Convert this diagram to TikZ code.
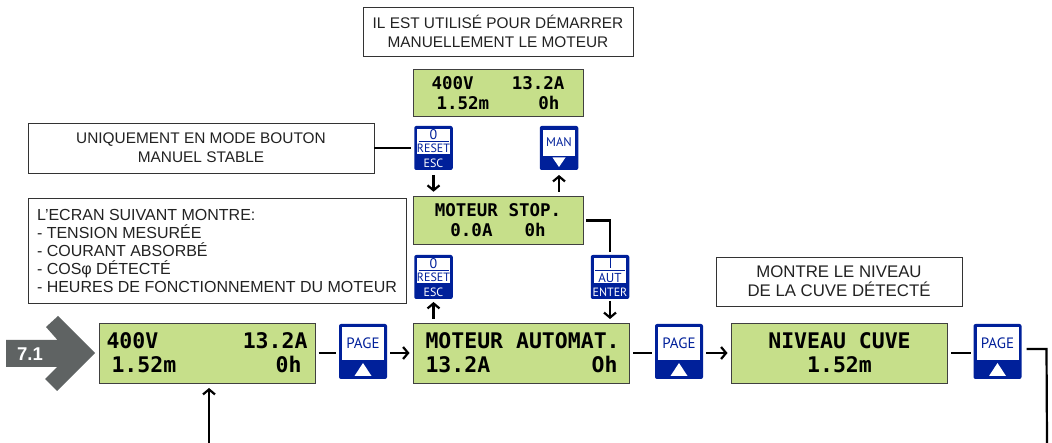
\documentclass[tikz,border=0pt]{standalone}
\usepackage{fontspec}
\setmainfont{Liberation Sans}
\newfontfamily\lcdfont{DejaVu Sans Mono}[BoldFont={DejaVu Sans Mono Bold}]
\newfontfamily\keyfont{PT Sans}
\usetikzlibrary{arrows.meta}
\definecolor{lcdgreen}{HTML}{C6DF8A}
\definecolor{keyblue}{HTML}{00209A}
\definecolor{tagrey}{HTML}{5F6363}
\definecolor{inkgrey}{HTML}{222222}
\tikzstyle{arrow} = [line width=2.2pt,->,>={Straight Barb[length=5pt,width=12pt]}]
\tikzstyle{wire} = [line width=2.2pt]

\begin{document}
\begin{tikzpicture}[x=1pt,y=-1pt]
    \tikzstyle{every node}=[inner sep=0pt, outer sep=0pt]
    \tikzstyle{lcd} = [draw=black!75, line width=0.9pt, fill=lcdgreen, align=center]
    \tikzstyle{biglcd} = [lcd, minimum width=216pt, minimum height=60pt, font=\lcdfont\bfseries\fontsize{21.5}{24}\selectfont]
    \tikzstyle{smalllcd} = [lcd, minimum width=170pt, minimum height=47.5pt, font=\lcdfont\bfseries\fontsize{17.5}{20}\selectfont]
    \tikzstyle{note} = [draw=black!80, line width=0.9pt, fill=white, text=inkgrey, align=center]
    \tikzstyle{pagekey} = [fill=keyblue, rounded corners=2pt, minimum width=48pt, minimum height=55pt]
    \tikzstyle{smallkey} = [fill=keyblue, rounded corners=2pt, minimum width=38.5pt, minimum height=44pt]
    \tikzstyle{keyface} = [fill=white]
    \tikzstyle{keytext} = [font=\keyfont\fontsize{12}{12}\selectfont, text=keyblue]
    \tikzstyle{keyfoot} = [font=\keyfont\fontsize{12}{12}\selectfont, text=white]

    \useasboundingbox (0,0) rectangle (1052,443);

    % displays
    \node[biglcd](lcdmesure) at (207,353) {
        \makebox[201pt][l]{400V\hfill 13.2A}\\
        \makebox[201pt][l]{\hspace*{5pt}1.52m\hfill 0h\hspace*{6pt}}};
    \node[biglcd](lcdauto) at (521.5,353) {
        \makebox[192pt][l]{MOTEUR AUTOMAT.}\\
        \makebox[192pt][l]{13.2A\hfill Oh}};
    \node[biglcd](lcdcuve) at (839.5,353) {NIVEAU CUVE\\1.52m};
    \node[smalllcd](lcdman) at (498,93) {
        \makebox[133pt][l]{400V\hfill 13.2A}\\
        \makebox[133pt][l]{\hspace*{5pt}1.52m\hfill 0h\hspace*{5pt}}};
    \node[smalllcd](lcdstop) at (498,220.5) {MOTEUR STOP.\\0.0A\hspace{32pt}0h};

    % notes
    \node[note, minimum width=270pt, minimum height=49pt, font=\fontsize{15.4}{19}\selectfont](notetop) at (498,31.5)
        {IL EST UTILISÉ POUR DÉMARRER\\MANUELLEMENT LE MOTEUR};
    \node[note, minimum width=346pt, minimum height=50pt, font=\fontsize{15.4}{19}\selectfont](notemode) at (201,148)
        {UNIQUEMENT EN MODE BOUTON\\MANUEL STABLE};
    \node[note, minimum width=378pt, minimum height=105pt, font=\fontsize{16}{18}\selectfont](noteecran) at (217,250.5)
        {\makebox[360pt][l]{L'ECRAN SUIVANT MONTRE:}\\
         \makebox[360pt][l]{- TENSION MESURÉE}\\
         \makebox[360pt][l]{- COURANT ABSORBÉ}\\
         \makebox[360pt][l]{- COSφ DÉTECTÉ}\\
         \makebox[360pt][l]{- HEURES DE FONCTIONNEMENT DU MOTEUR}};
    \node[note, minimum width=246pt, minimum height=49pt, font=\fontsize{16.8}{19}\selectfont](notecuve) at (839,281.5)
        {MONTRE LE NIVEAU\\DE LA CUVE DÉTECTÉ};

    % entry tag
    \fill[tagrey] (6,340) -- (57.5,340) -- (46,327) -- (58,316) -- (95,353) -- (57,391) -- (45,379) -- (57,367) -- (6,367) -- cycle;
    \node[text=white, font=\bfseries\fontsize{18.5}{18.5}\selectfont](tagmenu) at (30,354) {7.1};

    % keys
    \foreach \name/\x in {pagea/363, pageb/679, pagec/997.5} {
        \node[pagekey](\name) at (\x,351.5) {};
        \node[keyface, minimum width=42pt, minimum height=33pt](\name face) at (\x,343.5) {};
        \node[keytext, font=\keyfont\fontsize{15}{15}\selectfont](\name text) at (\x,343.5) {PAGE};
        \fill[white] (\x-8.5,376) -- (\x+8.5,376) -- (\x,363) -- cycle;
    }
    \foreach \name/\y in {escman/148, escauto/277} {
        \node[smallkey](\name) at (433.5,\y) {};
        \node[keyface, minimum width=32.5pt, minimum height=25pt](\name face) at (433.5,\y-6) {};
        \node[keytext, font=\keyfont\fontsize{14}{14}\selectfont](\name zero) at (433.5,\y-13.5) {0};
        \draw[keyblue, line width=0.7pt] (433.5-15,\y-7) -- (433.5+15,\y-7);
        \node[keytext](\name reset) at (433.5,\y+0.5) {RESET};
        \node[keyfoot](\name foot) at (433.5,\y+15) {ESC};
    }
    \node[smallkey](keyman) at (559,148) {};
    \node[keyface, minimum width=32.5pt, minimum height=26pt](keymanface) at (559,143) {};
    \node[keytext, font=\keyfont\fontsize{12.5}{12.5}\selectfont](keymantext) at (559,142) {MAN};
    \fill[white] (552.5,157.5) -- (565.5,157.5) -- (559,167) -- cycle;
    \node[smallkey](keyaut) at (610,277) {};
    \node[keyface, minimum width=32.5pt, minimum height=25pt](keyautface) at (610,271) {};
    \draw[keyblue, line width=1pt] (610,258.5) -- (610,268);
    \draw[keyblue, line width=0.7pt] (595,270) -- (625,270);
    \node[keytext, font=\keyfont\fontsize{13}{13}\selectfont](keyauttext) at (610,277.5) {AUT};
    \node[keyfoot](keyautfoot) at (610,292) {ENTER};

    % connectors
    \coordinate (entry) at (209,443);
    \coordinate (exit) at (1047,443);
    \draw[arrow, shorten >=5pt] (entry) -- (entry |- lcdmesure.south);
    \draw[wire, shorten <=3.5pt, shorten >=3pt] (lcdmesure.east) -- (lcdmesure.east -| pagea.west);
    \draw[arrow, shorten <=3pt, shorten >=4pt] (lcdmesure.east -| pagea.east) -- (lcdauto.west);
    \draw[wire, shorten <=3.5pt, shorten >=3pt] (lcdauto.east) -- (lcdauto.east -| pageb.west);
    \draw[arrow, shorten <=3pt, shorten >=4pt] (lcdauto.east -| pageb.east) -- (lcdcuve.west);
    \draw[wire, shorten <=3.5pt, shorten >=3pt] (lcdcuve.east) -- (lcdcuve.east -| pagec.west);
    \draw[wire, shorten <=5pt] (pagec.east) ++(0,-2.5) -- ++(25,0) -- (exit);
    \draw[wire, shorten >=3.5pt] (notemode.east) -- (notemode.east -| escman.west);
    \draw[arrow, shorten <=5pt, shorten >=5pt] (escman.south) -- (escman.south |- lcdstop.north);
    \draw[arrow, shorten <=5pt, shorten >=5pt] (keyman.south |- lcdstop.north) -- (keyman.south);
    \draw[arrow, shorten <=4pt, shorten >=3pt] (escauto.south |- lcdauto.north) -- (escauto.south);
    \draw[arrow, shorten <=2pt, shorten >=4pt] (keyaut.south) -- (keyaut.south |- lcdauto.north);
    \draw[wire, shorten <=3pt, shorten >=3pt] (lcdstop.east) -- (lcdstop.east -| keyaut.north) -- (keyaut.north);
\end{tikzpicture}
\end{document}
